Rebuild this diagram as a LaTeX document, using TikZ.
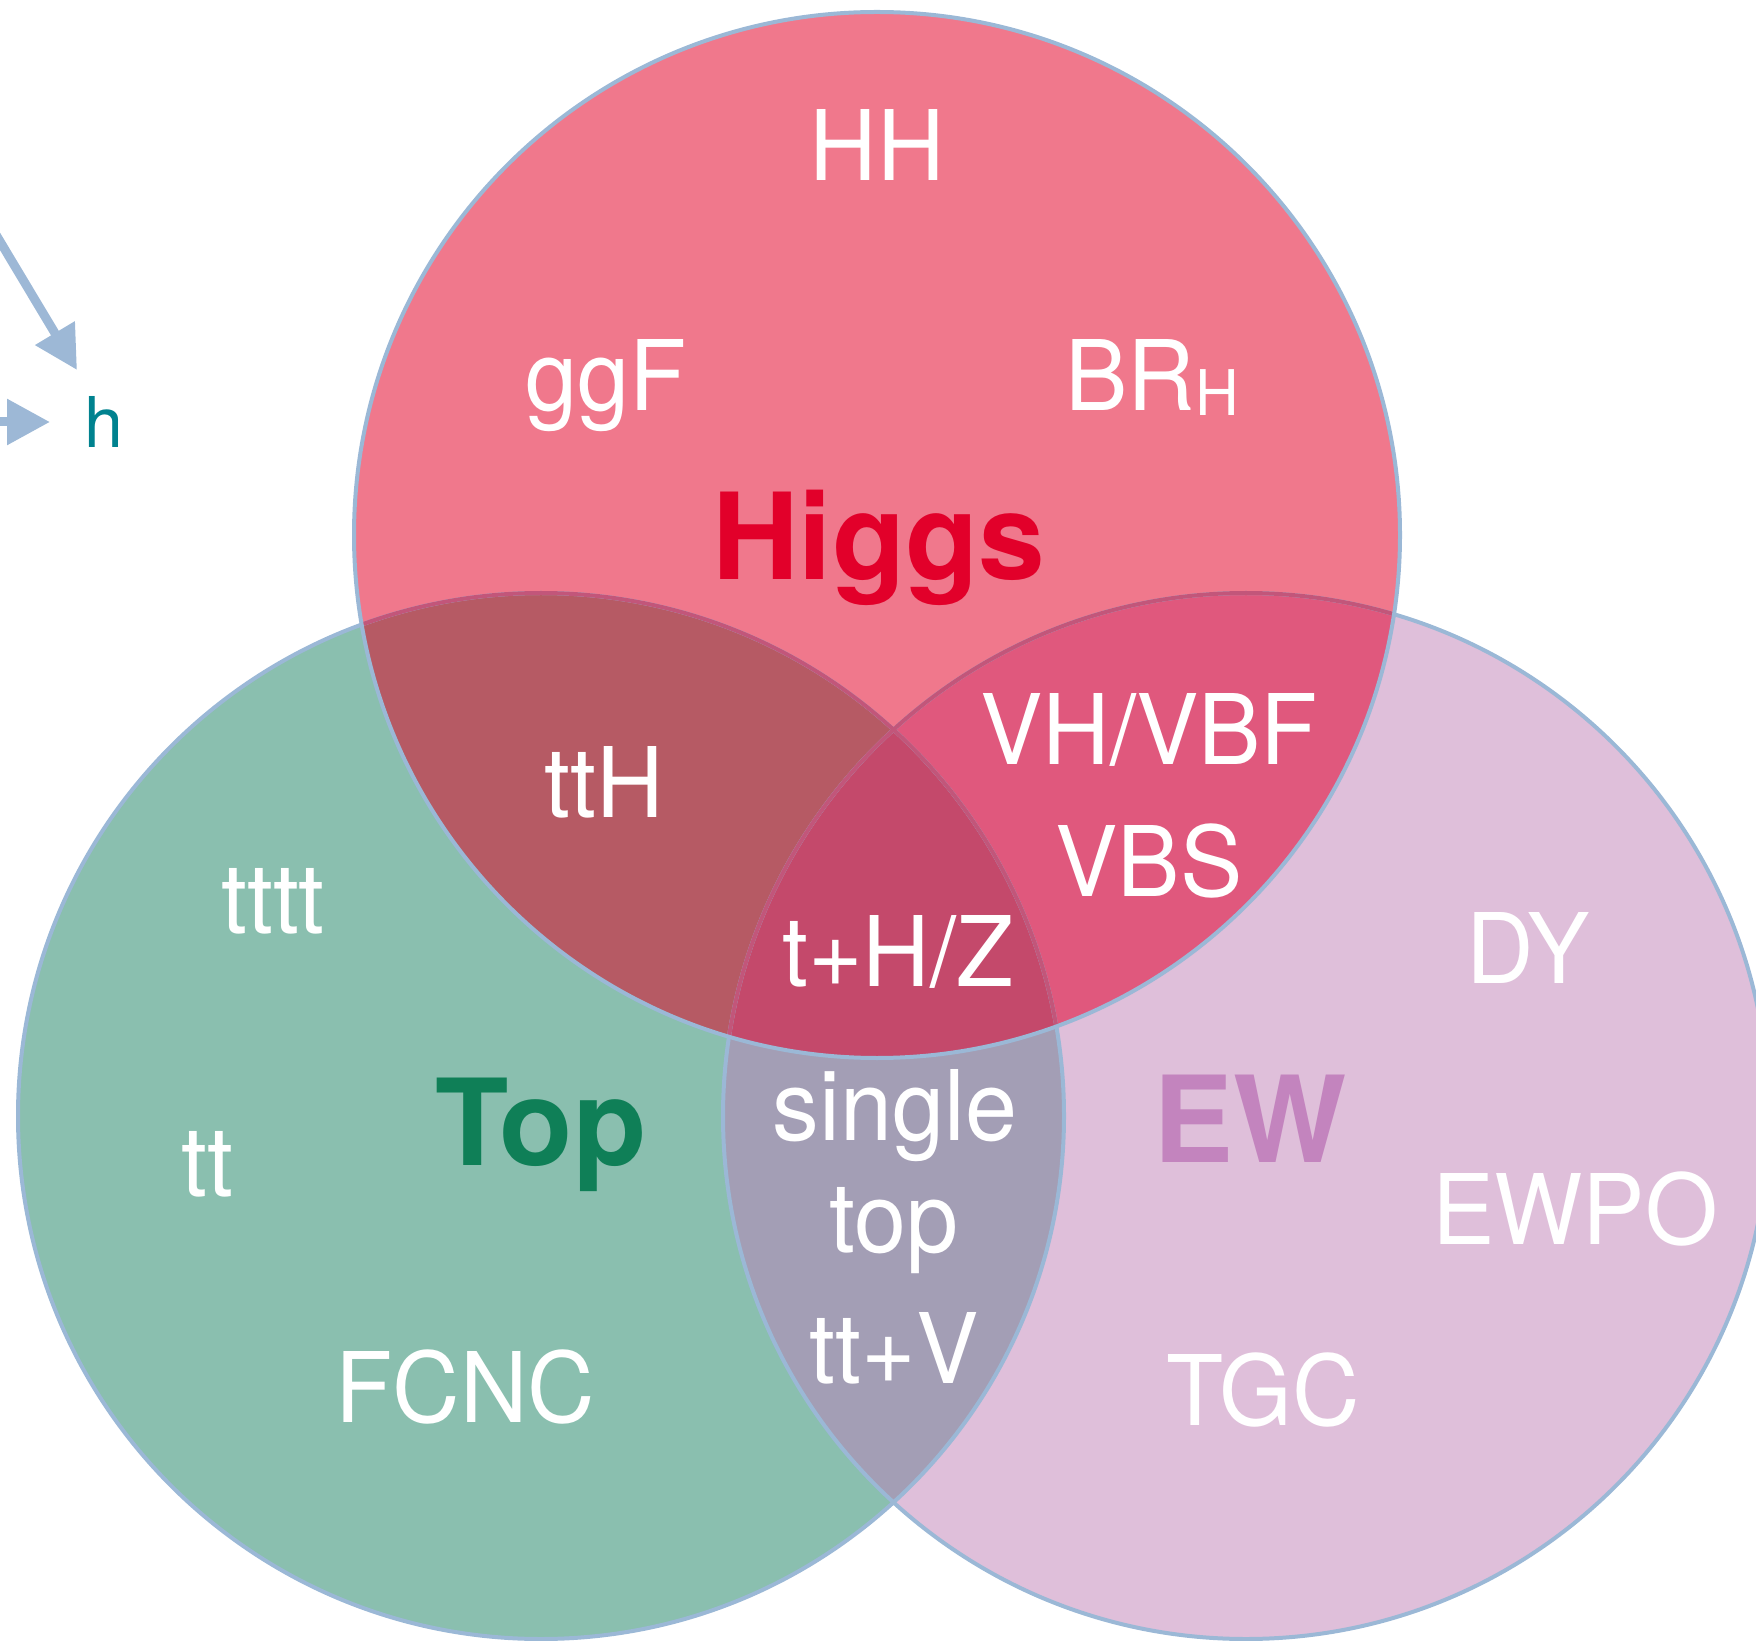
\documentclass[tikz,border=0pt]{standalone}
\usepackage{fontspec}
\usetikzlibrary{arrows.meta}
\newfontfamily\heros{TeX Gyre Heros}
\newfontfamily\narrowheros{TeX Gyre Heros}[FakeStretch=0.96]

\definecolor{higgsfill}{HTML}{F0788C}
\definecolor{topfill}{HTML}{8ABFAF}
\definecolor{ewfill}{HTML}{DFBFDA}
\definecolor{higgstop}{HTML}{B65A64}
\definecolor{higgsew}{HTML}{E0587D}
\definecolor{allthree}{HTML}{C4496B}
\definecolor{topew}{HTML}{A39EB5}
\definecolor{ringblue}{HTML}{9BB8D6}
\definecolor{innerline}{HTML}{C2567A}
\definecolor{arrowblue}{HTML}{9DB8D6}
\definecolor{higgsred}{HTML}{E2002A}
\definecolor{topgreen}{HTML}{0F7F57}
\definecolor{ewpink}{HTML}{C384BE}
\definecolor{hteal}{HTML}{00828F}

\begin{document}
\begin{tikzpicture}[x=0.5pt,y=-0.5pt,
  lbl/.style={text=white, font=\narrowheros\fontsize{48.7}{50}\selectfont, anchor=base, inner sep=0pt},
  sector/.style={font=\heros\bfseries\fontsize{60}{60}\selectfont, anchor=base, inner sep=0pt},
  ring/.style={draw=ringblue, line width=2pt},
  seam/.style={draw=innerline, line width=2pt},
  pointer/.style={draw=arrowblue, line width=4.5pt, -{Triangle[length=21.5pt,width=22pt]}}
]
\useasboundingbox (0,0) rectangle (1756,1641);
\def\R{261.5pt}
\coordinate (H) at (877,535);
\coordinate (T) at (541,1116);
\coordinate (E) at (1246,1116);

% single-set regions
\fill[topfill] (T) circle[radius=\R];
\fill[ewfill] (E) circle[radius=\R];
\fill[higgsfill] (H) circle[radius=\R];
% Top and EW overlap
\begin{scope}
  \clip (T) circle[radius=\R];
  \fill[topew] (E) circle[radius=\R];
\end{scope}
% overlaps inside Higgs
\begin{scope}
  \clip (H) circle[radius=\R];
  \fill[higgstop] (T) circle[radius=\R];
  \fill[higgsew] (E) circle[radius=\R];
  \clip (T) circle[radius=\R];
  \fill[allthree] (E) circle[radius=\R];
\end{scope}

% outlines
\draw[ring] (T) circle[radius=\R];
\draw[ring] (E) circle[radius=\R];
\begin{scope}
  \clip (H) circle[radius=\R];
  \draw[seam] (T) circle[radius=\R];
  \draw[seam] (E) circle[radius=\R];
\end{scope}
\draw[ring] (H) circle[radius=\R];

% Higgs
\node[lbl] (hh) at (877,181) {HH};
\node[lbl] (ggf) at (606,411) {ggF};
\node[lbl] (brh) at (1152,411) {BR\raisebox{-2.5pt}{\fontsize{31.5}{32}\selectfont H}};
\node[sector, text=higgsred] (higgs) at (879,580) {Higgs};
\node[lbl] (tth) at (604,818) {ttH};
\node[lbl] (vh) at (1149,764) {VH/VBF};
\node[lbl] (vbs) at (1149,896) {VBS};
\node[lbl] (thz) at (898,986) {t+H/Z};

% Top
\node[lbl] (tttt) at (273,933) {tttt};
\node[lbl] (tt) at (207,1196) {tt};
\node[sector, text=topgreen] (top) at (541,1165) {Top};
\node[lbl] (fcnc) at (465,1422) {FCNC};
\node[lbl] (single) at (895,1140) {single};
\node[lbl] (stop) at (894,1252) {top};
\node[lbl] (ttv) at (894,1383) {tt+V};

% EW
\node[lbl] (dy) at (1528,983) {DY};
\node[sector, text=ewpink] (ew) at (1250,1162) {EW};
\node[lbl] (ewpo) at (1575,1244) {EWPO};
\node[lbl] (tgc) at (1263,1425) {TGC};

% pointers towards h
\node[font=\heros\fontsize{35}{35}\selectfont, text=hteal, anchor=base, inner sep=0pt] (h) at (104,448) {h};
\coordinate (p1) at (-20,208);
\coordinate (q1) at (77,370);
\coordinate (p2) at (-20,422);
\coordinate (q2) at (50,422);
\draw[pointer] (p1) -- (q1);
\draw[pointer] (p2) -- (q2);
\end{tikzpicture}
\end{document}
